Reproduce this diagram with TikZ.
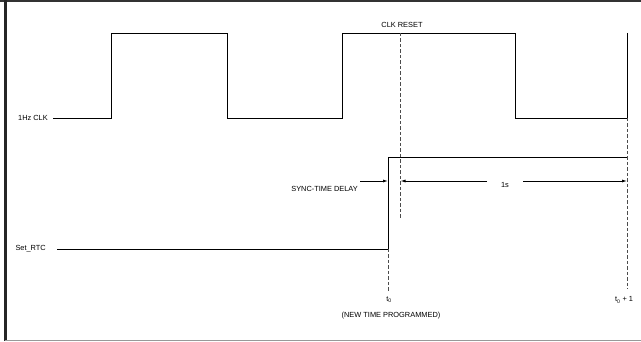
\documentclass[tikz,border=0pt]{standalone}
\usepackage{fontspec}
\setmainfont{Liberation Sans}
\usetikzlibrary{arrows.meta}
\begin{document}
\begin{tikzpicture}[x=1pt,y=-1pt,
  lbl/.style={inner sep=0pt,font=\fontsize{7.4}{8}\selectfont},
  wave/.style={line width=0.9pt,black},
  guide/.style={line width=0.9pt,black!70,dash pattern=on 3.5pt off 2pt},
  dimarrow/.style={line width=0.8pt,-{Latex[length=5pt,width=3pt]}}]
\useasboundingbox (0,0) rectangle (641,342);
% frame
\draw[line width=2pt,black!80] (0,1) -- (641,1);
\draw[line width=2.2pt,black!85] (5.5,0) -- (5.5,341);
\draw[line width=1.2pt,black!40] (5,340.5) -- (641,340.5);
% labels
\node[lbl,anchor=east] (clk) at (48,118) {1Hz CLK};
\node[lbl,anchor=east] (rtc) at (46,249) {Set\_RTC};
\node[lbl] (reset) at (402,25) {CLK RESET};
\node[lbl,anchor=east] (sync) at (358,189) {SYNC-TIME DELAY};
\node[lbl] (one) at (505,185) {1s};
\node[lbl] (t0) at (389,300) {t\textsubscript{0}};
\node[lbl] (newt) at (391,316) {(NEW TIME PROGRAMMED)};
\node[lbl] (t1) at (624,300) {t\textsubscript{0} + 1};
% clock waveform
\coordinate (c0) at (53,118);
\coordinate (c1) at (111,118);
\coordinate (c2) at (111,33);
\coordinate (c3) at (227,33);
\coordinate (c4) at (227,118);
\coordinate (c5) at (342,118);
\coordinate (c6) at (342,33);
\coordinate (c7) at (515,33);
\coordinate (c8) at (515,118);
\coordinate (c9) at (627,118);
\draw[wave] (c0) -- (c1) -- (c2) -- (c3) -- (c4) -- (c5) -- (c6) -- (c7) -- (c8) -- (c9);
% t0+1 marker
\coordinate (m1top) at (627,33);
\coordinate (m1bot) at (627,289);
\draw[wave] (m1top) -- (c9);
\draw[guide] (c9) -- (m1bot);
% Set_RTC waveform
\coordinate (r0) at (57,249);
\coordinate (r1) at (388,249);
\coordinate (r2) at (388,157);
\coordinate (r3) at (627,157);
\draw[wave] (r0) -- (r1) -- (r2) -- (r3);
\coordinate (t0bot) at (388,292);
\draw[guide] (r1) -- (t0bot);
% clock reset line
\coordinate (rtop) at (400,33);
\coordinate (rbot) at (400,218);
\draw[guide] (rtop) -- (rbot);
% arrows
\coordinate (sa) at (360,181);
\coordinate (sb) at (388,181);
\draw[dimarrow] (sa) -- (sb);
\coordinate (oa) at (487,181);
\coordinate (ob) at (400.5,181);
\coordinate (oc) at (523,181);
\coordinate (od) at (627,181);
\draw[dimarrow] (oa) -- (ob);
\draw[dimarrow] (oc) -- (od);
\end{tikzpicture}
\end{document}
